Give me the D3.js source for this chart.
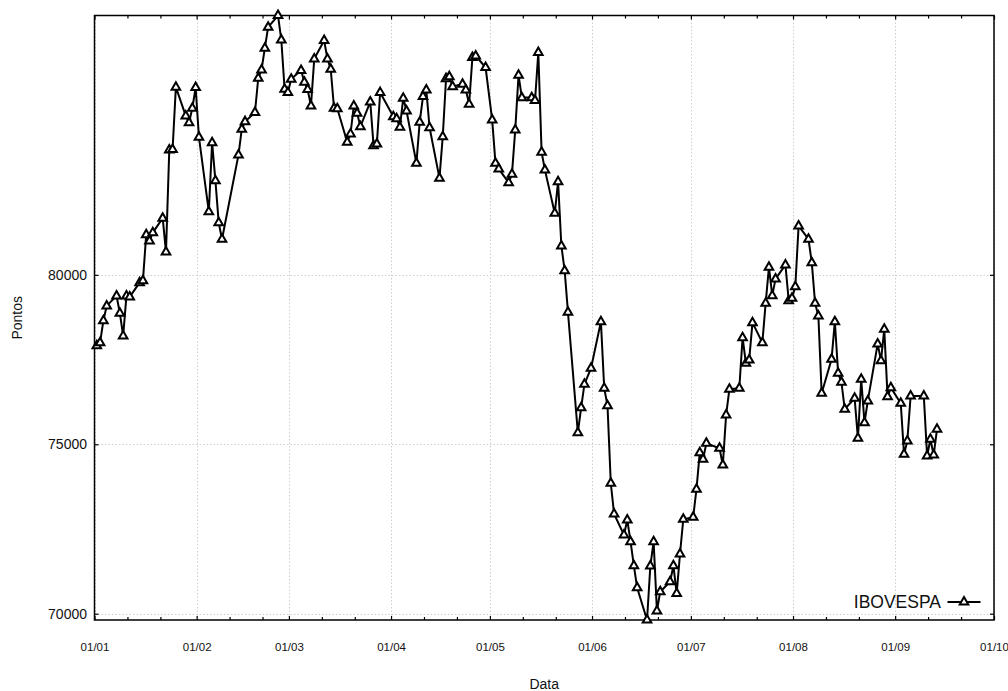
<!DOCTYPE html>
<html lang="pt">
<head>
<meta charset="utf-8">
<title>IBOVESPA 2018</title>
<script src="https://cdn.jsdelivr.net/npm/d3@7"></script>
<style>
  * { margin: 0; padding: 0; }
  body { background: #fff; }
  svg { display: block; font-family: "Liberation Sans", Arial, sans-serif; }
</style>
</head>
<body>
<div id="chart"></div>
<script>
// pregoes de 2018 (mes-dia) e fechamento do indice
const datas = [
  "01-02","01-03","01-04","01-05","01-08","01-09","01-10","01-11","01-12","01-15","01-16","01-17","01-18","01-19","01-22","01-23","01-24","01-25","01-26","01-29","01-30","01-31",
  "02-01","02-02","02-05","02-06","02-07","02-08","02-09","02-14","02-15","02-16","02-19","02-20","02-21","02-22","02-23","02-26","02-27","02-28",
  "03-01","03-02","03-05","03-06","03-07","03-08","03-09","03-12","03-13","03-14","03-15","03-16","03-19","03-20","03-21","03-22","03-23","03-26","03-27","03-28","03-29",
  "04-02","04-03","04-04","04-05","04-06","04-09","04-10","04-11","04-12","04-13","04-16","04-17","04-18","04-19","04-20","04-23","04-24","04-25","04-26","04-27","04-30",
  "05-02","05-03","05-04","05-07","05-08","05-09","05-10","05-11","05-14","05-15","05-16","05-17","05-18","05-21","05-22","05-23","05-24","05-25","05-28","05-29","05-30",
  "06-01","06-04","06-05","06-06","06-07","06-08","06-11","06-12","06-13","06-14","06-15","06-18","06-19","06-20","06-21","06-22","06-25","06-26","06-27","06-28","06-29",
  "07-02","07-03","07-04","07-05","07-06","07-10","07-11","07-12","07-13","07-16","07-17","07-18","07-19","07-20","07-23","07-24","07-25","07-26","07-27","07-30","07-31",
  "08-01","08-02","08-03","08-06","08-07","08-08","08-09","08-10","08-13","08-14","08-15","08-16","08-17","08-20","08-21","08-22","08-23","08-24","08-27","08-28","08-29","08-30","08-31",
  "09-03","09-04","09-05","09-06","09-10","09-11","09-12","09-13","09-14"
];
const pontos = [
  77911,78000,78649,79083,79379,78868,78198,79379,79350,79771,79830,81188,81002,81247,81672,80677,83688,83700,85539,84692,84494,84919,
  85528,84063,81867,83904,82782,81542,81052,83541,84299,84524,84790,85805,86050,86691,87311,87653,86936,85480,
  85380,85776,86035,85687,85469,84987,86375,86915,86375,86071,84919,84907,83916,84161,84987,84772,84376,85105,83815,83866,85380,
  84671,84612,84358,85215,84840,83296,84506,85262,85460,84347,82853,84081,85793,85852,85557,85628,85460,85037,86413,86463,86118,
  84574,83296,83127,82723,82971,84279,85894,85232,85232,85144,86561,83621,83098,81820,82753,80855,80125,78897,75343,76081,76772,
  77244,78620,76654,76140,73849,72943,72323,72766,72125,71417,70768,69814,71408,72125,70080,70649,70945,71417,70602,71762,72787,
  72846,73672,74753,74558,75030,74883,74389,75866,76624,76654,78148,77392,77489,78590,78000,79163,80226,79387,79880,80294,79240,
  79311,79653,81445,81052,80362,79163,78788,76506,77510,78620,77097,76831,76034,76359,75178,76920,75638,76279,77962,77469,78396,76406,76672,
  76211,74706,75098,76427,76427,74655,75148,74685,75443
];
const yTicks = [70000, 75000, 80000];
const serie = "IBOVESPA";
const inicio = "2018-01-01", fim = "2018-10-01";

const W = 1008, H = 691;
const area = {left: 94.5, right: 994, top: 15.5, bottom: 620};

const parse = d3.timeParse("%Y-%m-%d");
const dados = datas.map((d, i) => ({data: parse("2018-" + d), valor: pontos[i]}));

const x = d3.scaleTime()
  .domain([parse(inicio), parse(fim)])
  .range([area.left, area.right]);
const y = d3.scaleLinear()
  .domain(d3.extent(pontos))
  .range([area.bottom, area.top]);

const meses = d3.timeMonth.range(x.domain()[0], d3.timeDay.offset(x.domain()[1], 1));
const dezenas = d3.timeDay.range(x.domain()[0], x.domain()[1])
  .filter(d => d.getDate() === 11 || d.getDate() === 21);

const svg = d3.select("#chart").append("svg")
  .attr("width", W)
  .attr("height", H);

// grade pontilhada
const grade = svg.append("g")
  .attr("stroke", "#cfcfcf")
  .attr("stroke-dasharray", "1.5,2")
  .attr("stroke-width", 1);
grade.selectAll(".gx").data(meses).enter().append("line")
  .attr("x1", d => Math.round(x(d)) + 0.5).attr("x2", d => Math.round(x(d)) + 0.5)
  .attr("y1", area.top).attr("y2", area.bottom);
grade.selectAll(".gy").data(yTicks).enter().append("line")
  .attr("x1", area.left).attr("x2", area.right)
  .attr("y1", d => Math.round(y(d)) + 0.5).attr("y2", d => Math.round(y(d)) + 0.5);

// eixos
function limpa(g) {
  g.select(".domain").remove();
  g.selectAll(".tick line").attr("stroke", "#000").attr("stroke-width", 1.2);
}

svg.append("g")
  .attr("transform", `translate(0,${area.bottom})`)
  .call(d3.axisBottom(x).tickValues(meses).tickFormat(d3.timeFormat("%d/%m"))
    .tickSizeInner(-4).tickSizeOuter(0).tickPadding(22.5))
  .call(limpa)
  .call(g => g.selectAll("text").attr("fill", "#111").style("font-size", "11.5px")
    .style("font-family", '"Liberation Sans", Arial, sans-serif'));

svg.append("g")
  .attr("transform", `translate(0,${area.bottom})`)
  .call(d3.axisBottom(x).tickValues(dezenas).tickFormat("").tickSizeInner(-3).tickSizeOuter(0))
  .call(limpa);

svg.append("g")
  .attr("transform", `translate(0,${area.top})`)
  .call(d3.axisTop(x).tickValues(meses).tickFormat("").tickSizeInner(-4).tickSizeOuter(0))
  .call(limpa);
svg.append("g")
  .attr("transform", `translate(0,${area.top})`)
  .call(d3.axisTop(x).tickValues(dezenas).tickFormat("").tickSizeInner(-3).tickSizeOuter(0))
  .call(limpa);

svg.append("g")
  .attr("transform", `translate(${area.left},0)`)
  .call(d3.axisLeft(y).tickValues(yTicks).tickFormat(d3.format("d"))
    .tickSizeInner(-4).tickSizeOuter(0).tickPadding(7.5))
  .call(limpa)
  .call(g => g.selectAll("text").attr("fill", "#111").style("font-size", "14px")
    .style("font-family", '"Liberation Sans", Arial, sans-serif'));

svg.append("g")
  .attr("transform", `translate(${area.right},0)`)
  .call(d3.axisRight(y).tickValues(yTicks).tickFormat("").tickSizeInner(-4).tickSizeOuter(0))
  .call(limpa);

// moldura
svg.append("rect")
  .attr("x", area.left).attr("y", area.top)
  .attr("width", area.right - area.left).attr("height", area.bottom - area.top)
  .attr("fill", "none").attr("stroke", "#000").attr("stroke-width", 1.5);

// titulos
svg.append("text")
  .attr("x", (area.left + area.right) / 2).attr("y", 689)
  .attr("text-anchor", "middle").style("font-size", "14px").attr("fill", "#111")
  .text("Data");
svg.append("text")
  .attr("transform", `translate(21.5,${(area.top + area.bottom) / 2}) rotate(-90)`)
  .attr("text-anchor", "middle").style("font-size", "14px").attr("fill", "#111")
  .text("Pontos");

// serie
const triangulo = "M0,-4.9L4.3,2.6L-4.3,2.6Z";
const linha = d3.line().x(d => x(d.data) - 1).y(d => y(d.valor));

svg.append("path")
  .datum(dados)
  .attr("fill", "none")
  .attr("stroke", "#000")
  .attr("stroke-width", 2)
  .attr("stroke-linejoin", "miter")
  .attr("d", linha);

svg.append("g").selectAll("path").data(dados).enter().append("path")
  .attr("transform", d => `translate(${x(d.data) - 1},${y(d.valor)})`)
  .attr("d", triangulo)
  .attr("fill", "#fff")
  .attr("stroke", "#000")
  .attr("stroke-width", 2);

// legenda
const leg = svg.append("g").attr("transform", "translate(964,602)");
leg.append("line").attr("x1", -16.5).attr("x2", 16.5)
  .attr("stroke", "#000").attr("stroke-width", 2);
leg.append("path").attr("d", triangulo)
  .attr("fill", "#fff").attr("stroke", "#000").attr("stroke-width", 2);
leg.append("text").attr("x", -23).attr("y", 6)
  .attr("text-anchor", "end").style("font-size", "17.5px").attr("fill", "#111")
  .text(serie);
</script>
</body>
</html>
